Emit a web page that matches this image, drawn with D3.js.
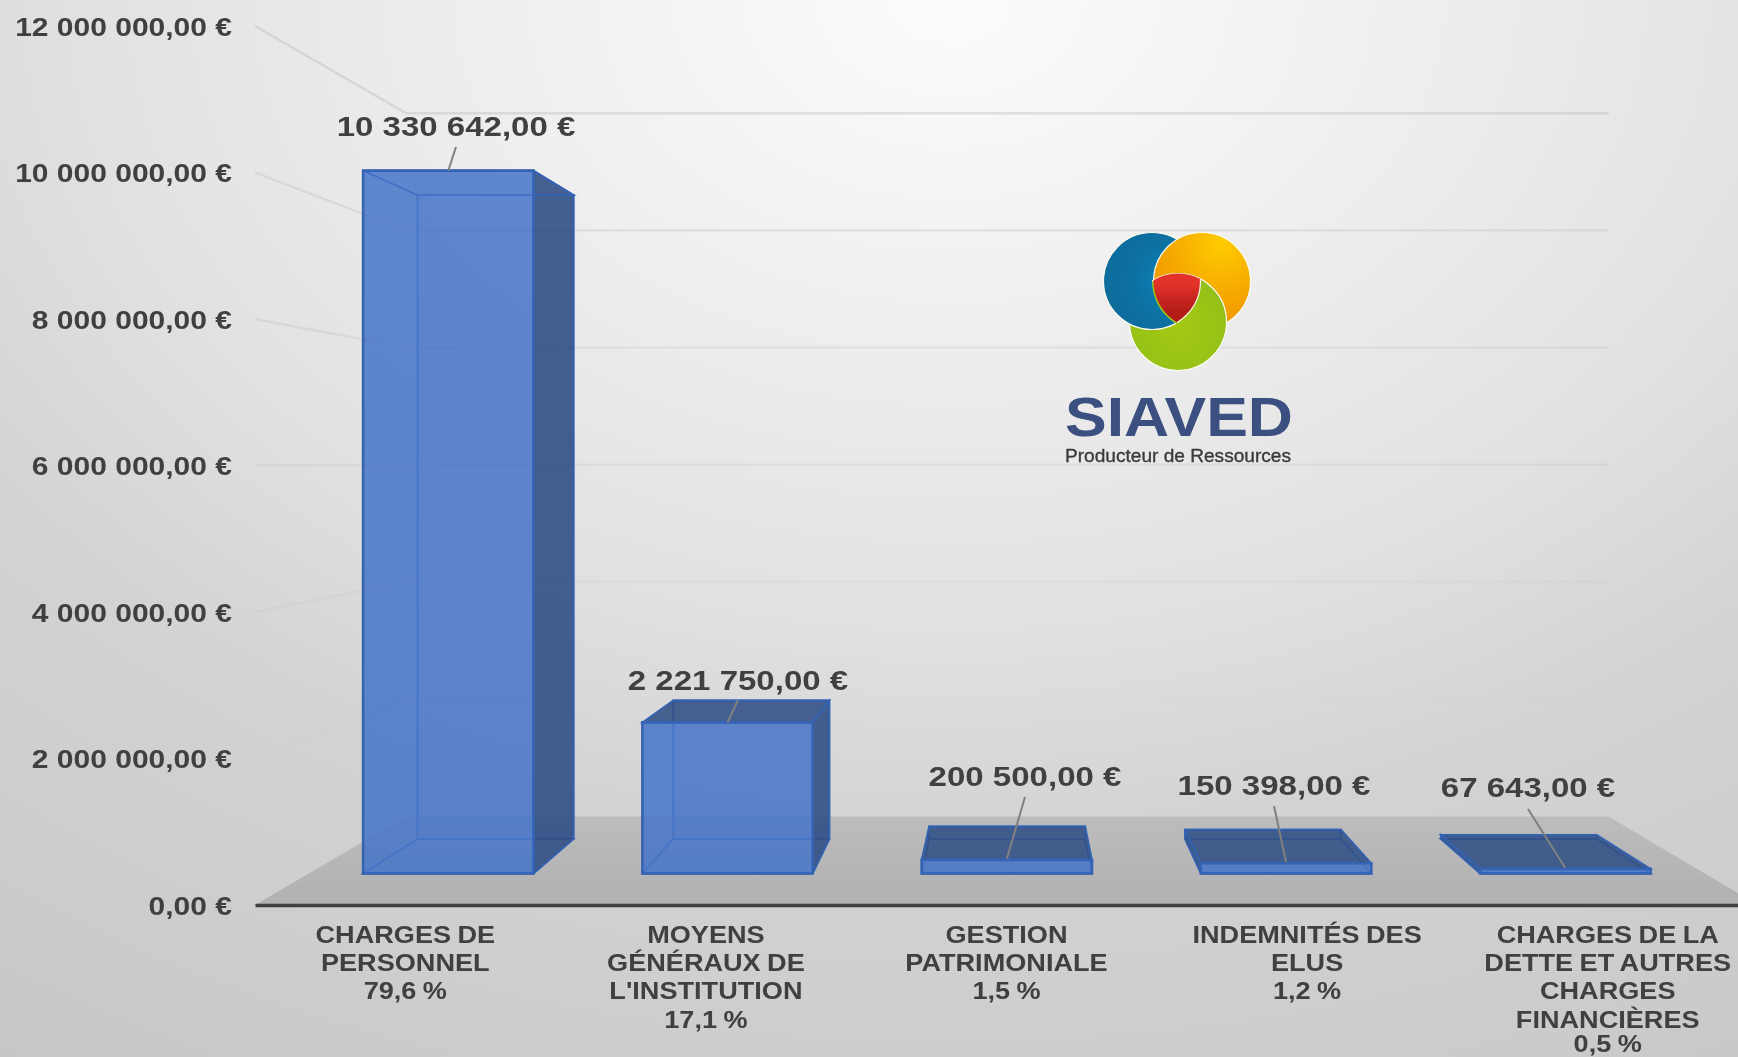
<!DOCTYPE html>
<html><head><meta charset="utf-8">
<script src="https://cdn.jsdelivr.net/npm/d3@7"></script>
<style>
html,body{margin:0;padding:0;overflow:hidden}
text{font-family:"Liberation Sans",Arial,sans-serif;font-weight:bold;fill:#404040}
</style></head><body>
<div id="chart"></div>
<script>
const categories=["CHARGES DE PERSONNEL","MOYENS GÉNÉRAUX DE L'INSTITUTION","GESTION PATRIMONIALE","INDEMNITÉS DES ELUS","CHARGES DE LA DETTE ET AUTRES CHARGES FINANCIÈRES"];
const categoryLines=[["CHARGES DE","PERSONNEL"],["MOYENS","GÉNÉRAUX DE","L'INSTITUTION"],["GESTION","PATRIMONIALE"],["INDEMNITÉS DES","ELUS"],["CHARGES DE LA","DETTE ET AUTRES","CHARGES","FINANCIÈRES"]];
const percents=["79,6 %","17,1 %","1,5 %","1,2 %","0,5 %"];
const values=[10330642,2221750,200500,150398,67643];
const yTicks=[0,2000000,4000000,6000000,8000000,10000000,12000000];

const W=1738,H=1057;
const vx=1011,vy=462,kFront=.929,kBack=.851,kWall=.8;
const labelPos=[[456,126],[738,680],[1025,776],[1274,785],[1528,787]];

const x=d3.scaleBand().domain(categories).range([255,1758]).paddingInner(.39).paddingOuter(.195);
const y=d3.scaleLinear().domain([0,12000000]).range([905,26]);
const loc=d3.formatLocale({decimal:",",thousands:" ",grouping:[3],currency:[""," €"]});
const fmt=v=>loc.format(",.2f")(v)+" €";
const project=(x0,v,k)=>[vx+(x0-vx)*k,vy+(y(v)-vy)*k];
const poly=pts=>"M"+pts.map(p=>p.map(n=>n.toFixed(1)).join(",")).join("L")+"Z";

const svg=d3.select("#chart").append("svg").attr("width",W).attr("height",H).style("display","block");
const defs=svg.append("defs");
const bg=defs.append("radialGradient").attr("id","bg").attr("gradientUnits","userSpaceOnUse")
  .attr("cx",0).attr("cy",0).attr("r",1250).attr("gradientTransform","translate(950,0) scale(1.4,1)");
[[0,"#fcfcfc"],[.33,"#ebebeb"],[.5,"#e1e1e1"],[.67,"#d3d3d3"],[.85,"#cdcdcd"],[1,"#c7c7c7"]].forEach(s=>bg.append("stop").attr("offset",s[0]).attr("stop-color",s[1]));
const fl=defs.append("linearGradient").attr("id","floor").attr("x1",0).attr("x2",0).attr("y1",0).attr("y2",1);
fl.append("stop").attr("offset",0).attr("stop-color","#bcbcbc");
fl.append("stop").attr("offset",1).attr("stop-color","#b1b1b1");
defs.append("filter").attr("id","soft").attr("x","-5%").attr("y","-5%").attr("width","110%").attr("height","110%")
  .append("feGaussianBlur").attr("stdDeviation",.7);

svg.append("rect").attr("width",W).attr("height",H).attr("fill","url(#bg)");
const root=svg.append("g").attr("filter","url(#soft)");

// floor
root.append("path").attr("fill","url(#floor)")
  .attr("d",poly([project(255,0,1),project(255,0,kWall),project(1758,0,kWall),project(1758,0,1)]));

// gridlines: left wall then back wall
const gridOp=d3.scaleLinear().domain([2000000,12000000]).range([.04,.3]);
root.selectAll(".grid").data(yTicks.slice(1)).join("path").attr("class","grid")
  .attr("fill","none").attr("stroke","#a8a8a8").attr("stroke-width",2.4)
  .attr("stroke-opacity",gridOp)
  .attr("d",v=>{const a=project(255,v,1),b=project(255,v,kWall),c=project(1758,v,kWall);return "M"+a+"L"+b+"L"+c;});

// logo
const logo=root.append("g");
const cBlue=[1152,281],cOrange=[1202,281],cGreen=[1178,322],rLogo=48.5;
function rg(id,fx,fy,stops){const g=defs.append("radialGradient").attr("id",id).attr("cx",fx).attr("cy",fy).attr("r",.75);
  stops.forEach(s=>g.append("stop").attr("offset",s[0]).attr("stop-color",s[1]));}
rg("gBlue",.72,.5,[[0,"#0484bd"],[.6,"#0a6f9f"],[1,"#0a6c9b"]]);
rg("gOrange",.7,.12,[[0,"#ffcc00"],[.7,"#f5a800"],[1,"#f39c00"]]);
rg("gGreen",.5,.55,[[0,"#a6c911"],[.6,"#97c218"],[1,"#7fb32a"]]);
const red=defs.append("linearGradient").attr("id","gRed").attr("x1",0).attr("x2",0).attr("y1",0).attr("y2",1);
red.append("stop").attr("offset",.25).attr("stop-color","#e3332b");
red.append("stop").attr("offset",.8).attr("stop-color","#b31c18");
const clip=(id,c,parent,r)=>{const p=defs.append("clipPath").attr("id",id);if(parent)p.attr("clip-path",`url(#${parent})`);
  p.append("circle").attr("cx",c[0]).attr("cy",c[1]).attr("r",r||rLogo);};
clip("cOwide",cOrange,null,rLogo+1.5);
clip("cO",cOrange);clip("cOG",cGreen,"cO");clip("cOGB",cBlue,"cOG");
const circ=(sel,c,fill)=>sel.append("circle").attr("cx",c[0]).attr("cy",c[1]).attr("r",rLogo).attr("fill",fill).attr("stroke","#fbfbf0").attr("stroke-width",1.2);
circ(logo,cGreen,"url(#gGreen)");
circ(logo,cBlue,"url(#gBlue)");
circ(logo,cOrange,"url(#gOrange)");
circ(logo.append("g").attr("clip-path","url(#cOwide)"),cGreen,"url(#gGreen)");
logo.append("g").attr("clip-path","url(#cOGB)").append("rect")
  .attr("x",1150).attr("y",270).attr("width",60).attr("height",52).attr("fill","url(#gRed)");
// pale rim round the red centre
logo.append("g").attr("clip-path","url(#cOG)").append("circle")
  .attr("cx",cBlue[0]).attr("cy",cBlue[1]).attr("r",rLogo).attr("fill","none").attr("stroke","#f4f4e4").attr("stroke-width",1.2);
logo.append("text").attr("x",1065).attr("y",436).attr("font-size",56).attr("textLength",228).attr("lengthAdjust","spacingAndGlyphs")
  .style("fill","#3b4f80").text("SIAVED");
logo.append("text").attr("x",1065).attr("y",462).attr("font-size",18.5).attr("textLength",226).attr("lengthAdjust","spacingAndGlyphs")
  .style("fill","#3a3a3a").style("font-weight","normal").attr("stroke","#3a3a3a").attr("stroke-width",.35).text("Producteur de Ressources");

// 3D bars
const data=categories.map((c,i)=>({c,i,v:values[i],a:x(c),b:x(c)+x.bandwidth()}));
const bars=root.selectAll(".bar").data(data).join("g").attr("class","bar");
const DARK="#315085",FRONT="#4774c8",EDGE="#3563b3",INNER="#3f6cbb";
// back and floor faces: outlines seen through the front
bars.append("path").attr("fill",FRONT).attr("fill-opacity",.12).attr("stroke",INNER).attr("stroke-width",1.8)
  .attr("d",d=>poly([project(d.a,0,kBack),project(d.a,d.v,kBack),project(d.b,d.v,kBack),project(d.b,0,kBack)]));
bars.append("path").attr("fill","none").attr("stroke",INNER).attr("stroke-width",1.8)
  .attr("d",d=>poly([project(d.a,0,kFront),project(d.a,0,kBack),project(d.b,0,kBack),project(d.b,0,kFront)]));
// dark visible side
bars.append("path").attr("fill",DARK).attr("fill-opacity",.9).attr("stroke",EDGE).attr("stroke-width",1.6)
  .attr("d",d=>{
    const s=project(d.b,0,kBack)[0]>project(d.b,0,kFront)[0]?d.b:(project(d.a,0,kBack)[0]<project(d.a,0,kFront)[0]?d.a:null);
    return s===null?null:poly([project(s,0,kFront),project(s,d.v,kFront),project(s,d.v,kBack),project(s,0,kBack)]);
  });
// top face
bars.append("path").attr("fill",d=>project(d.a,d.v,kBack)[1]<project(d.a,d.v,kFront)[1]?DARK:"none").attr("fill-opacity",.88)
  .attr("stroke",EDGE).attr("stroke-width",1.8)
  .attr("d",d=>poly([project(d.a,d.v,kFront),project(d.a,d.v,kBack),project(d.b,d.v,kBack),project(d.b,d.v,kFront)]));
// front face
bars.append("path").attr("fill",FRONT).attr("fill-opacity",.85).attr("stroke",EDGE).attr("stroke-width",2.6)
  .attr("d",d=>poly([project(d.a,0,kFront),project(d.a,d.v,kFront),project(d.b,d.v,kFront),project(d.b,0,kFront)]));

// leader lines
const lead=[21,20,21,21,22];
bars.append("line").attr("stroke","#808080").attr("stroke-width",2)
  .attr("x1",d=>project(d.a+x.bandwidth()/2,d.v,kFront)[0]).attr("y1",d=>project(d.a,d.v,kFront)[1]-(d.i<2?0:1))
  .attr("x2",d=>labelPos[d.i][0]).attr("y2",d=>labelPos[d.i][1]+lead[d.i]);

// value labels
bars.append("text").attr("text-anchor","middle").attr("dy",".36em").attr("font-size",28)
  .attr("transform",d=>`translate(${labelPos[d.i][0]},${labelPos[d.i][1]}) scale(1.18,1)`)
  .text(d=>fmt(d.v));

// y axis labels
const yAxis=root.append("g").attr("transform","translate(232,0)")
  .call(d3.axisLeft(y).tickValues(yTicks).tickSize(0).tickPadding(0).tickFormat(fmt));
yAxis.select(".domain").remove();
yAxis.selectAll("text").attr("font-size",25).attr("x",0).attr("dy",".36em")
  .attr("transform","scale(1.2,1)");
yAxis.attr("font-family",null);

// x axis
const xAxis=root.append("g").attr("transform","translate(0,905)")
  .call(d3.axisBottom(x).tickSize(0).tickSizeOuter(0).tickFormat(""));
xAxis.attr("font-family",null);
xAxis.select(".domain").attr("stroke","#404040").attr("stroke-width",3.5);
xAxis.selectAll(".tick text").remove();
xAxis.selectAll(".tick").each(function(c,i){
  const lines=categoryLines[i].concat([percents[i]]);
  d3.select(this).selectAll("text.cat").data(lines).join("text").attr("class","cat")
    .attr("text-anchor","middle").attr("font-size",24).attr("dy",".36em").attr("word-spacing",-1)
    .attr("transform",(l,j)=>`translate(0,${Math.min(29+j*28.3,138)}) scale(1.13,1)`)
    .text(l=>l);
});
</script></body></html>
